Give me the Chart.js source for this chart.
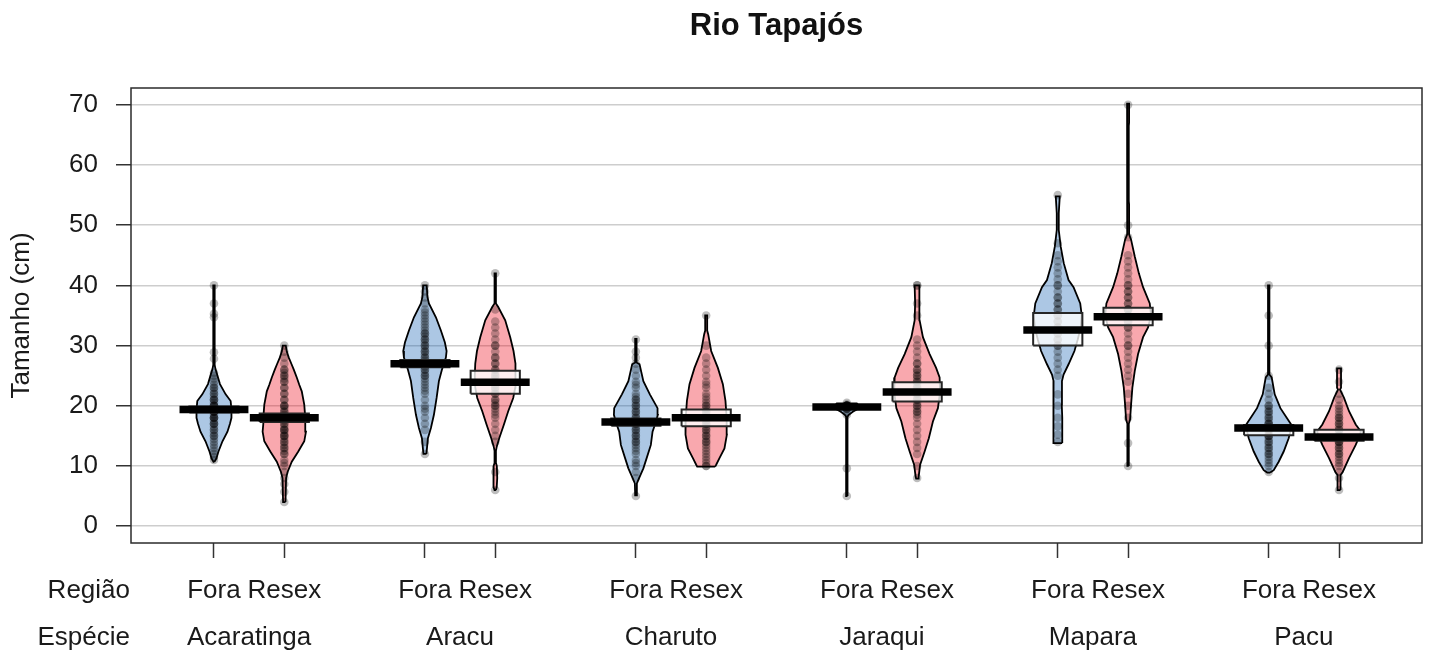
<!DOCTYPE html>
<html>
<head>
<meta charset="utf-8">
<script src="https://cdn.jsdelivr.net/npm/chart.js@4.4.1/dist/chart.umd.min.js"></script>
<style>
  html, body { margin: 0; padding: 0; background: #ffffff; }
  #wrap { width: 1435px; height: 655px; }
</style>
</head>
<body>
<div id="wrap"><canvas id="c" width="1435" height="655"></canvas></div>
<script>
// ---- data -------------------------------------------------------------
const chartTitle = 'Rio Tapajós';
const yTitle = 'Tamanho (cm)';
const species = ['Acaratinga', 'Aracu', 'Charuto', 'Jaraqui', 'Mapara', 'Pacu'];
const regions = ['Fora', 'Resex'];
const rowHeaders = ['Região', 'Espécie'];
const yTicks = [0, 10, 20, 30, 40, 50, 60, 70];

// bean centres (Fora, Resex for each species) and species label positions
const beanX = [1, 2, 4, 5, 7, 8, 10, 11, 13, 14, 16, 17];
const speciesX = [1.5, 4.5, 7.5, 10.5, 13.5, 16.5];

// mean length and highest-density interval per bean
const beanMean = [19.4, 18.0, 27.0, 23.9, 17.3, 18.0, 19.8, 22.3, 32.6, 34.8, 16.3, 14.8];
const hdiLow   = [18.9, 17.3, 26.4, 22.0, 16.7, 16.6, 19.5, 20.7, 30.0, 33.4, 15.1, 14.2];
const hdiHigh  = [19.9, 18.7, 27.6, 25.8, 17.9, 19.4, 20.1, 23.9, 35.4, 36.3, 16.8, 16.0];

// observed lengths (cm)
const acaratingaFora = [11, 11.5, 12, 12.5, 13, 13.5, 14, 14.5, 15, 15, 15.5, 16, 16, 16.5, 17, 17, 17, 17.5, 18, 18, 18, 18, 18.5, 19, 19, 19, 19, 19.5, 20, 20, 20, 20, 20.5, 21, 21, 21, 21.5, 22, 22, 22.5, 23, 23, 23.5, 24, 24.5, 25, 25.5, 27.8, 28.9, 34.7, 35.3, 37, 40];
const acaratingaResex = [4, 5.7, 7, 8, 9, 10, 10.5, 11, 12, 12, 12.5, 13, 13, 13.5, 14, 14, 14.5, 15, 15, 15, 15.5, 16, 16, 16, 16.5, 17, 17, 17.5, 18, 18, 18.5, 19, 19, 19.5, 20, 20, 20, 21, 21, 22, 22, 23, 23, 24, 24, 24.5, 25, 25, 25.5, 26, 26, 27, 28, 29, 30];
const aracuFora = [12, 14, 16, 17, 18, 19, 19.5, 20, 21, 22, 22.5, 23, 23.5, 24, 24.5, 25, 25, 25.5, 26, 26, 26.5, 27, 27, 27.5, 28, 28, 28.5, 29, 29, 29.5, 30, 30, 30.5, 31, 31, 31.5, 32, 32, 32.5, 33, 33.5, 34, 34.5, 35, 35.5, 36, 37, 38, 39, 40];
const aracuResex = [6, 9, 14, 15, 16, 17, 18, 18.5, 19, 19.5, 20, 20, 20.5, 21, 21, 22, 22, 22.5, 23, 23, 23.5, 24, 24, 24.5, 25, 25, 25.5, 26, 26, 27, 27, 28, 28, 29, 30, 30, 31, 32, 33, 34, 36, 42];
const charutoFora = [5, 8, 9, 10, 10.5, 11, 12, 12.5, 13, 13.5, 14, 14, 14.5, 15, 15, 15.5, 16, 16, 16.5, 17, 17, 17.5, 18, 18, 18.5, 19, 19, 19.5, 20, 20, 20.5, 21, 21, 21.5, 22, 23, 23.5, 24, 25, 26, 27, 28, 29, 31];
const charutoResex = [10, 10, 10.5, 11, 11.5, 12, 12.5, 13, 13.5, 14, 14, 14.5, 15, 15, 15.5, 16, 16, 16.5, 17, 17, 17.5, 18, 18, 18.5, 19, 19, 19.5, 20, 20, 20.5, 21, 21.5, 22, 23, 23.5, 24, 25, 26, 27, 28, 30, 35];
const jaraquiFora = [5, 9.6, 18.5, 19, 19.5, 19.5, 19.5, 19.8, 20, 20, 20, 20, 20, 20, 20, 20, 20, 20, 20, 20.2, 20.5];
const jaraquiResex = [8, 10, 12, 13, 14, 15, 16, 17, 18, 18.5, 19, 19, 19.5, 20, 20, 20.5, 21, 21, 21.5, 22, 22, 22.5, 23, 23, 23.5, 24, 24, 24.5, 25, 25, 25.5, 26, 26, 27, 27, 28, 29, 30, 31, 35, 37, 40, 40];
const maparaFora = [14, 15.2, 16.6, 18, 20, 21.9, 25, 26, 27, 28, 29, 30, 30, 31, 31, 32, 32, 33, 33, 34, 34, 35, 35, 36, 36, 37, 37, 38, 38, 39, 40, 40, 41, 42, 43, 44, 45, 47, 55];
const maparaResex = [10, 13.8, 18, 20, 22, 24, 25, 26, 27, 28, 29, 30, 30, 31, 32, 33, 33, 34, 34, 35, 35, 35, 36, 36, 36, 37, 37, 38, 38, 39, 39, 40, 40, 41, 42, 43, 44, 45, 48, 50, 70];
const pacuFora = [9, 10, 10.5, 11, 11.5, 12, 12, 12.5, 13, 13, 13.5, 14, 14, 14.5, 15, 15, 15, 15.5, 16, 16, 16, 16.5, 17, 17, 17, 17.5, 18, 18, 18.5, 19, 19, 19.5, 20, 20, 21, 22, 23, 25, 30, 35, 40];
const pacuResex = [6, 8, 9, 10, 10.5, 11, 11.5, 12, 12, 12.5, 13, 13, 13.5, 14, 14, 14, 14.5, 15, 15, 15, 15.5, 16, 16, 16.5, 17, 17, 17.5, 18, 18, 18.5, 19, 19.5, 20, 21, 22, 24, 26];

// smoothed density of each bean: [length, density], bottom to top
const acaratingaForaDens = [[10.7, 0.5], [11.3, 2.5], [12.4, 4.5], [14.1, 8.5], [15.7, 13.5], [17, 16], [18, 17.5], [19.3, 17.5], [20.8, 16.7], [21.9, 11.7], [23.6, 6], [25.3, 3], [26.1, 1.5], [26.8, 0.7], [40, 0.7]];
const acaratingaResexDens = [[4, 1.2], [8, 1.8], [9, 3.3], [10.7, 7.5], [12.4, 14], [14.1, 20], [15.7, 21.7], [17, 21], [18, 21], [20.2, 20], [22.4, 17.5], [23.5, 15], [24.7, 12.5], [26, 9.5], [26.9, 7.3], [28, 4.5], [29, 2.5], [30, 1.5]];
const aracuForaDens = [[12, 1.5], [14.6, 3], [16.3, 6], [18.5, 9], [21.3, 11.7], [24.1, 14], [26, 17], [27, 19], [28, 21], [29.1, 21.7], [30.5, 20], [32.5, 16], [34.7, 11], [37, 4], [38.1, 2.5], [40, 1.8]];
const aracuResexDens = [[6, 0.7], [6.5, 1.5], [8, 2], [10, 1.6], [10.5, 0.7], [12.5, 0.7], [13.2, 1.5], [14.6, 4], [16.9, 8.7], [19.1, 13], [21.3, 18], [23, 20], [25, 20.5], [27, 20], [29.1, 18.3], [31.4, 15], [34.2, 10], [36.4, 3], [37, 0.7], [42, 0.7]];
const charutoForaDens = [[5.1, 0.7], [7.1, 1], [7.9, 3], [9.6, 7.5], [11.3, 10.8], [13.5, 15], [15.7, 16.7], [17.3, 20], [18.5, 22], [19.6, 21.7], [21.9, 14], [24.1, 7.5], [26.9, 3.7], [27.2, 0.7], [31.1, 0.7]];
const charutoResexDens = [[9.9, 9], [10.2, 10], [11.3, 13.3], [12.9, 18.3], [15.2, 20.7], [18, 20.5], [20.8, 19.3], [23.6, 16.7], [26.3, 11.7], [29.1, 5], [31.9, 2], [32.5, 1], [35, 1]];
const jaraquiForaDens = [[5, 0.7], [18.2, 0.7], [18.5, 2], [19, 6], [19.5, 11], [20, 12], [20.4, 10]];
const jaraquiResexDens = [[7.9, 1], [8.2, 1.5], [10.2, 3], [12.4, 7.5], [14.6, 11.7], [17.4, 15.8], [19.6, 20.8], [22.3, 23], [24.7, 22.5], [26.3, 19], [28.6, 12.5], [31.4, 5.8], [34.2, 2.5], [37, 2], [40, 2.5]];
const maparaForaDens = [[13.8, 4.5], [18, 4.5], [20.2, 4], [24.1, 4.2], [25.2, 5.8], [26.9, 10.8], [29.1, 16.7], [31, 20], [33, 23], [35, 24], [37, 22.5], [39.7, 15.8], [40.9, 10.8], [43.7, 6], [46.4, 3], [49.2, 1], [52, 1], [54.8, 2]];
const maparaResexDens = [[10, 0.7], [17, 0.7], [17.7, 2], [20.2, 3], [23, 4.3], [25.8, 6.7], [28.6, 10], [31.4, 15], [33, 20], [35, 23], [37, 21.7], [39.7, 15], [42, 10.8], [44.8, 6.7], [47.6, 3], [48.5, 1], [53.5, 1], [54, 0.7], [66.5, 0.7], [67, 1], [70.2, 1]];
const pacuForaDens = [[8.9, 1.5], [9.3, 5], [10.7, 10], [12.4, 15], [14.6, 20], [16.3, 22.5], [16.9, 22.5], [18, 18], [19.6, 11.7], [21.9, 6], [24.7, 3], [25.2, 0.7], [40, 0.7]];
const pacuResexDens = [[6, 1.5], [8.5, 1.5], [9, 3.7], [11.3, 10], [13.5, 16.7], [14.8, 20], [15.7, 22], [16.9, 16.7], [19.1, 10], [21.3, 5], [22.7, 1], [23, 2], [26.2, 2]];

// ---- assembly ---------------------------------------------------------
const beanLengths = [acaratingaFora, acaratingaResex, aracuFora, aracuResex, charutoFora, charutoResex,
                     jaraquiFora, jaraquiResex, maparaFora, maparaResex, pacuFora, pacuResex];
const beanDensity = [acaratingaForaDens, acaratingaResexDens, aracuForaDens, aracuResexDens,
                     charutoForaDens, charutoResexDens, jaraquiForaDens, jaraquiResexDens,
                     maparaForaDens, maparaResexDens, pacuForaDens, pacuResexDens];

const regionFill = ['rgba(12, 91, 176, 0.34)', 'rgba(238, 0, 17, 0.34)'];
const densityScale = 1 / 70.4;   // density units -> x-axis units
const meanHalf = 0.49;           // half length of the mean bar
const boxHalf = 0.35;            // half width of the interval box
const FONT = "'Liberation Sans', Arial, Helvetica, sans-serif";
const TXT = '#1a1a1a';

const datasets = [];

beanX.forEach((cx, i) => {
  const prof = beanDensity[i];
  const right = prof.map(([y, d]) => ({ x: cx + d * densityScale, y }));
  const left = prof.slice().reverse().map(([y, d]) => ({ x: cx - d * densityScale, y }));
  const poly = right.concat(left);
  poly.push(poly[0]);
  datasets.push({
    type: 'line', data: poly, order: 4,
    backgroundColor: regionFill[i % 2], borderColor: '#000', borderWidth: 1.8,
    fill: 'shape', tension: 0, pointRadius: 0, borderJoinStyle: 'miter'
  });
});

beanX.forEach((cx, i) => {
  datasets.push({
    type: 'scatter', order: 3,
    data: beanLengths[i].map(v => ({ x: cx, y: v })),
    backgroundColor: 'rgba(0, 0, 0, 0.26)', borderWidth: 0, pointRadius: 4.3
  });
});

beanX.forEach((cx, i) => {
  const lo = hdiLow[i], hi = hdiHigh[i];
  datasets.push({
    type: 'line', order: 2,
    data: [{ x: cx - boxHalf, y: lo }, { x: cx + boxHalf, y: lo }, { x: cx + boxHalf, y: hi },
           { x: cx - boxHalf, y: hi }, { x: cx - boxHalf, y: lo }],
    backgroundColor: 'rgba(255, 255, 255, 0.8)', borderColor: '#262626', borderWidth: 2,
    fill: 'shape', tension: 0, pointRadius: 0, borderJoinStyle: 'miter'
  });
});

beanX.forEach((cx, i) => {
  datasets.push({
    type: 'line', order: 1,
    data: [{ x: cx - meanHalf, y: beanMean[i] }, { x: cx + meanHalf, y: beanMean[i] }],
    borderColor: '#000', borderWidth: 7.5, borderCapStyle: 'butt',
    fill: false, tension: 0, pointRadius: 0
  });
});

// frame around the plotting region and the row headers below it
const framePlugin = {
  id: 'frameAndHeaders',
  afterDraw(chart) {
    const { ctx, chartArea: a } = chart;
    ctx.save();
    ctx.strokeStyle = '#2b2b2b';
    ctx.lineWidth = 1.5;
    ctx.strokeRect(a.left, a.top, a.right - a.left, a.bottom - a.top);
    ctx.font = '26px ' + FONT;
    ctx.fillStyle = TXT;
    ctx.textAlign = 'right';
    ctx.textBaseline = 'middle';
    ['x', 'x2'].forEach((id, k) => {
      const s = chart.scales[id];
      const g = s.options.grid;
      const tl = g.drawTicks ? g.tickLength : 0;
      const y = s.top + tl + s.options.ticks.padding + 26 * 1.2 / 2;
      ctx.fillText(rowHeaders[k], a.left - 1, y);
    });
    ctx.restore();
  }
};

Chart.defaults.font.family = FONT;
Chart.defaults.color = TXT;

new Chart(document.getElementById('c'), {
  type: 'line',
  data: { datasets },
  options: {
    responsive: false,
    animation: false,
    devicePixelRatio: 1,
    events: [],
    layout: { padding: { left: 0, right: 13, top: 0, bottom: 0 } },
    plugins: {
      legend: { display: false },
      tooltip: { enabled: false },
      title: {
        display: true, text: chartTitle, fullSize: false,
        font: { size: 31, weight: 'bold', family: FONT }, color: '#111',
        padding: { top: 8, bottom: 42.8 }
      }
    },
    scales: {
      x: {
        type: 'linear', position: 'bottom', weight: 0,
        min: -0.18, max: 18.18,
        afterBuildTicks: s => { s.ticks = beanX.map(v => ({ value: v })); },
        afterFit: s => { s.height = 70; },
        ticks: {
          autoSkip: false, maxRotation: 0, minRotation: 0, padding: 17.5,
          font: { size: 26 }, color: TXT,
          callback: (v, i) => regions[i % 2]
        },
        grid: {
          display: true, drawOnChartArea: false, drawTicks: true,
          tickLength: 15, tickColor: '#333', tickWidth: 1.5
        },
        border: { display: false }
      },
      x2: {
        type: 'linear', position: 'bottom', weight: 1,
        min: -0.18, max: 18.18,
        afterBuildTicks: s => { s.ticks = speciesX.map(v => ({ value: v })); },
        afterFit: s => { s.height = 42; },
        ticks: {
          autoSkip: false, maxRotation: 0, minRotation: 0, padding: 9.4,
          font: { size: 26 }, color: TXT,
          callback: (v, i) => species[i]
        },
        grid: { display: false, drawTicks: false },
        border: { display: false }
      },
      y: {
        type: 'linear', position: 'left',
        min: -2.8, max: 72.8,
        afterBuildTicks: s => { s.ticks = yTicks.map(v => ({ value: v })); },
        afterFit: s => { s.width = 131; },
        ticks: { padding: 18, font: { size: 26 }, color: TXT },
        grid: {
          color: '#cdcdcd', lineWidth: 1.5, drawTicks: true,
          tickLength: 15, tickColor: '#333', tickWidth: 1.5
        },
        border: { display: false },
        title: {
          display: true, text: yTitle, color: TXT,
          font: { size: 26 }, padding: { top: 6, bottom: 0 }
        }
      }
    }
  },
  plugins: [framePlugin]
});
</script>
</body>
</html>
